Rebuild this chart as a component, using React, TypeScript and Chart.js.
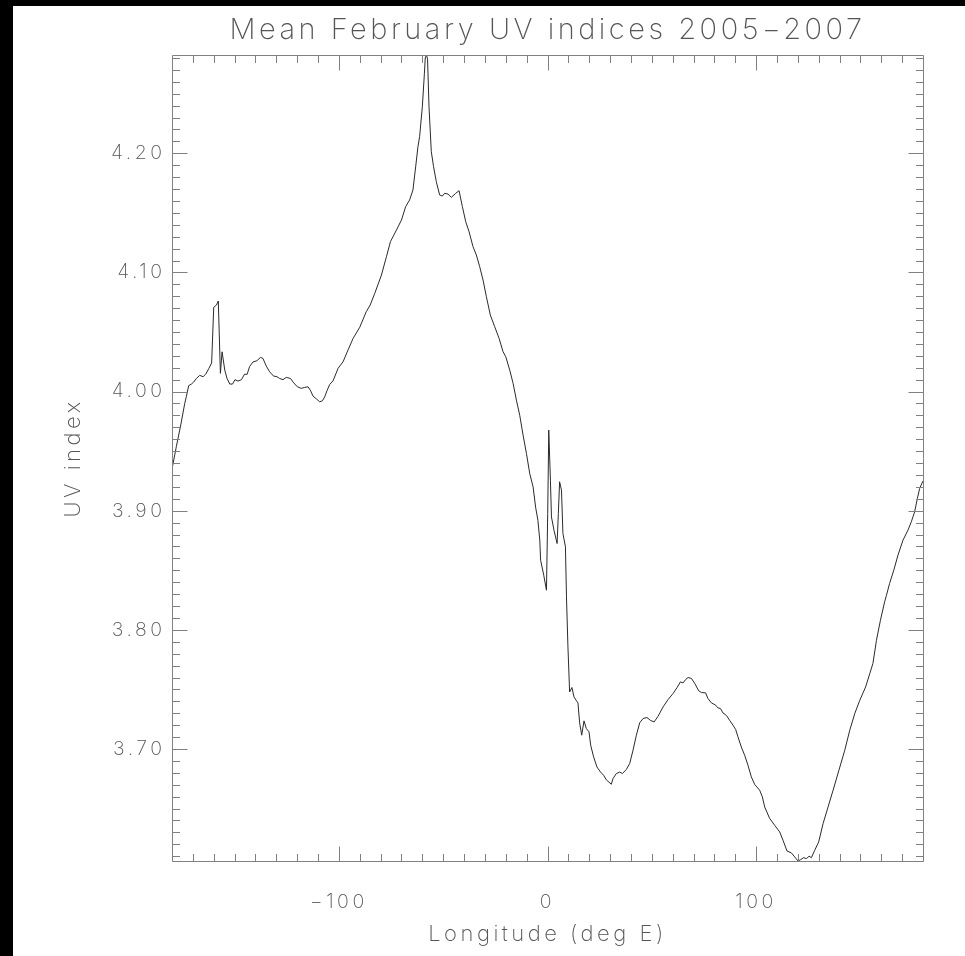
import React, { useEffect, useRef } from 'react';
import { Chart, registerables } from 'chart.js';

Chart.register(...registerables);

const longitudes = [
  -180, -177.9, -175.8, -173.9, -173.1, -172.0, -170.7, -169.6, -168.3, -166.7,
  -165.1, -163.8, -162.3, -161.0, -160.0, -158.7, -157.8, -156.8, -156.0, -154.7,
  -153.6, -152.3, -151.0, -149.8, -148.4, -146.7, -145.2, -144.0, -142.8, -141.2,
  -139.3, -137.6, -136.4, -134.8, -133.2, -131.3, -129.7, -128.4, -126.8, -125.2,
  -123.2, -121.7, -119.9, -118.0, -116.4, -114.8, -113.7, -112.4, -110.8, -109.2,
  -107.9, -106.8, -105.7, -104.4, -102.8, -100.4, -98.0, -95.6, -93.2, -90.0,
  -86.9, -85.0, -82.8, -79.6, -77.2, -75.3, -72.4, -70.0, -68.0, -66.1,
  -64.5, -63.2, -62.1, -61.3, -60.0, -59.0, -58.6, -58.0, -57.5, -56.8,
  -55.7, -54.6, -53.3, -51.7, -50.4, -49.3, -47.7, -46.1, -44.0, -42.4,
  -40.8, -39.2, -37.6, -35.7, -34.1, -32.5, -30.9, -29.3, -27.4, -25.3,
  -23.2, -21.3, -20.0, -18.1, -16.5, -14.9, -13.3, -11.7, -10.1, -8.5,
  -6.9, -5.7, -4.6, -3.7, -3.3, -1.8, -0.5, 0.1, 0.6, 1.4,
  1.9, 3.1, 4.6, 5.2, 5.8, 6.7, 7.4, 8.6, 9.1, 9.8,
  10.6, 11.7, 12.7, 13.9, 14.6, 15.4, 16.4, 17.5, 18.6, 19.9,
  20.7, 22.1, 23.7, 25.4, 26.9, 28.2, 30.6, 31.4, 33.0, 34.6,
  35.9, 37.8, 39.4, 41.0, 42.6, 44.2, 45.8, 47.7, 49.3, 51.1,
  53.0, 55.4, 57.8, 60.2, 62.1, 63.7, 65.0, 66.2, 67.4, 69.0,
  70.6, 72.5, 73.8, 75.8, 76.9, 78.6, 80.6, 81.7, 82.9, 84.1,
  85.8, 87.3, 88.9, 90.2, 91.3, 92.9, 94.5, 96.1, 97.7, 99.3,
  101.7, 103.0, 104.1, 106.5, 108.9, 111.3, 112.9, 114.8, 116.9, 118.5,
  120.1, 121.2, 122.8, 124.1, 125.4, 126.5, 128.1, 130.0, 132.1, 134.5,
  136.9, 139.7, 142.5, 144.9, 147.3, 149.7, 152.5, 154.5, 156.0, 157.7,
  159.6, 161.6, 162.5, 164.0, 166.0, 168.0, 170.4, 172.8, 174.4, 176.0,
  177.3, 178.4, 180.0,
];

const uvIndex = [
  3.935, 3.954, 3.972, 3.990, 3.996, 4.005, 4.0063, 4.008, 4.011, 4.0136,
  4.0125, 4.0147, 4.0195, 4.024, 4.0707, 4.0726, 4.076, 4.0153, 4.0334, 4.018,
  4.011, 4.0063, 4.0063, 4.010, 4.0088, 4.010, 4.0147, 4.0144, 4.021, 4.0248,
  4.0259, 4.0287, 4.0278, 4.0214, 4.0166, 4.013, 4.0125, 4.011, 4.010, 4.0119,
  4.011, 4.0074, 4.004, 4.0027, 4.0035, 4.004, 4.0012, 3.9962, 3.9939, 3.9914,
  3.9923, 3.9956, 4.0007, 4.006, 4.009, 4.0195, 4.025, 4.035, 4.0446, 4.054,
  4.067, 4.0726, 4.0825, 4.0978, 4.1132, 4.1258, 4.1356, 4.144, 4.1552, 4.1608,
  4.1692, 4.1887, 4.2055, 4.214, 4.239, 4.2672, 4.28, 4.2825, 4.279, 4.239,
  4.2013, 4.1887, 4.1762, 4.165, 4.1641, 4.1664, 4.1658, 4.163, 4.1664, 4.1686,
  4.1552, 4.1426, 4.1342, 4.1216, 4.1146, 4.1048, 4.0936, 4.0796, 4.0642, 4.0544,
  4.0446, 4.0334, 4.0292, 4.018, 4.0069, 3.9928, 3.98, 3.9634, 3.9481, 3.931,
  3.92, 3.903, 3.892, 3.8753, 3.8585, 3.8459, 3.8333, 3.8977, 3.9677, 3.9257,
  3.8948, 3.8837, 3.8725, 3.8977, 3.9243, 3.9173, 3.8809, 3.8697, 3.8277, 3.7857,
  3.7479, 3.7516, 3.7437, 3.7404, 3.7387, 3.722, 3.7116, 3.7236, 3.7172, 3.7144,
  3.7032, 3.6934, 3.6849, 3.6807, 3.678, 3.6741, 3.6704, 3.6752, 3.6794, 3.6807,
  3.6794, 3.6828, 3.6878, 3.699, 3.7116, 3.722, 3.7256, 3.7264, 3.7241, 3.7227,
  3.7275, 3.7353, 3.7415, 3.7466, 3.7516, 3.7563, 3.7555, 3.7583, 3.76, 3.7592,
  3.755, 3.7488, 3.7474, 3.7471, 3.7424, 3.7387, 3.7368, 3.7345, 3.734, 3.7303,
  3.7281, 3.7241, 3.72, 3.7164, 3.7102, 3.7017, 3.6948, 3.6864, 3.6766, 3.6703,
  3.6654, 3.6598, 3.6514, 3.6417, 3.636, 3.6304, 3.6234, 3.6144, 3.6128, 3.6094,
  3.606, 3.607, 3.6088, 3.608, 3.61, 3.6088, 3.615, 3.622, 3.6374, 3.6514,
  3.6654, 3.6822, 3.699, 3.7158, 3.7298, 3.7409, 3.7521, 3.7634, 3.7718, 3.7913,
  3.8081, 3.8235, 3.8291, 3.839, 3.8501, 3.8627, 3.8753, 3.8837, 3.8907, 3.8991,
  3.9103, 3.9187, 3.925,
];

const xTickValues = [-100, 0, 100];
const xTickLabels = ['\u2212100', '0', '100'];
const yTickValues = [3.7, 3.8, 3.9, 4.0, 4.1, 4.2];
const yTickLabels = ['3.70', '3.80', '3.90', '4.00', '4.10', '4.20'];

const TITLE = 'Mean February UV indices 2005\u22122007';
const X_TITLE = 'Longitude (deg E)';
const Y_TITLE = 'UV index';

const X_MIN = -180;
const X_MAX = 180;
const Y_MIN = 3.606;
const Y_MAX = 4.2825;

const FONT = 'Inter, Roboto, sans-serif';
const WEIGHT = '200';
const TEXT_COLOR = '#555555';
const AXIS_COLOR = '#808080';
const LINE_COLOR = '#2a2a2a';

const CANVAS_W = 952;
const CANVAS_H = 950;

const idlFramePlugin = {
  id: 'idlFrame',
  beforeLayout(chart: any) {
    chart.ctx.letterSpacing = '3.5px';
  },
  beforeDraw(chart: any) {
    chart.ctx.letterSpacing = '3.5px';
  },
  afterDraw(chart: any) {
    const { ctx, chartArea: a, scales } = chart;
    const xs = scales.x;
    const ys = scales.y;
    const L = Math.round(a.left) + 0.5;
    const R = Math.round(a.right) + 0.5;
    const T = Math.round(a.top) + 0.5;
    const B = Math.round(a.bottom) + 0.5;
    ctx.save();
    ctx.strokeStyle = AXIS_COLOR;
    ctx.lineWidth = 1;
    ctx.beginPath();
    ctx.rect(L, T, R - L, B - T);
    for (let k = -17; k <= 17; k++) {
      const v = k * 10;
      const px = Math.round(xs.getPixelForValue(v)) + 0.5;
      const len = v % 100 === 0 ? 15 : 7.5;
      ctx.moveTo(px, B);
      ctx.lineTo(px, B - len);
      ctx.moveTo(px, T);
      ctx.lineTo(px, T + len);
    }
    for (let k = 361; k <= 428; k++) {
      const v = k / 100;
      const py = Math.round(ys.getPixelForValue(v)) + 0.5;
      const len = k % 10 === 0 ? 15 : 7.5;
      ctx.moveTo(L, py);
      ctx.lineTo(L + len, py);
      ctx.moveTo(R, py);
      ctx.lineTo(R - len, py);
    }
    ctx.stroke();
    ctx.restore();
  },
};

export default function App() {
  const canvasRef = useRef<HTMLCanvasElement | null>(null);

  useEffect(() => {
    const canvas = canvasRef.current;
    if (!canvas) return;
    const data = longitudes.map((x, i) => ({ x, y: uvIndex[i] }));
    const chart = new Chart(canvas, {
      type: 'line',
      data: {
        datasets: [
          {
            data,
            borderColor: LINE_COLOR,
            borderWidth: 1,
            pointRadius: 0,
            tension: 0,
            fill: false,
          },
        ],
      },
      options: {
        animation: false,
        responsive: false,
        devicePixelRatio: 1,
        parsing: false as any,
        layout: { padding: { left: 0, right: 42, top: 0, bottom: 0 } },
        plugins: {
          legend: { display: false },
          tooltip: { enabled: false },
          title: { display: false },
        },
        scales: {
          x: {
            type: 'linear',
            min: X_MIN,
            max: X_MAX,
            grid: { display: false, drawTicks: false },
            border: { display: false },
            afterBuildTicks: (scale: any) => {
              scale.ticks = xTickValues.map((value) => ({ value }));
            },
            afterFit: (scale: any) => {
              scale.height = 95;
            },
            ticks: {
              color: TEXT_COLOR,
              padding: 29,
              maxRotation: 0,
              autoSkip: false,
              font: { family: FONT, size: 19.5, weight: WEIGHT as any, lineHeight: 1.2 },
              callback: (value: any) => {
                const i = xTickValues.indexOf(Number(value));
                return i >= 0 ? xTickLabels[i] : '';
              },
            },
            title: {
              display: true,
              text: X_TITLE,
              color: TEXT_COLOR,
              font: { family: FONT, size: 22, weight: WEIGHT as any, lineHeight: 1.2 },
              padding: { top: 0, bottom: 8.4 },
            },
          },
          xTop: {
            type: 'linear',
            position: 'top',
            min: X_MIN,
            max: X_MAX,
            grid: { display: false, drawTicks: false },
            border: { display: false },
            ticks: { display: false },
            afterFit: (scale: any) => {
              scale.height = 49;
            },
            title: {
              display: true,
              text: TITLE,
              color: TEXT_COLOR,
              font: { family: FONT, size: 29, weight: WEIGHT as any, lineHeight: 1.2 },
              padding: { top: 7, bottom: 0 },
            },
          },
          y: {
            type: 'linear',
            min: Y_MIN,
            max: Y_MAX,
            grid: { display: false, drawTicks: false },
            border: { display: false },
            afterBuildTicks: (scale: any) => {
              scale.ticks = yTickValues.map((value) => ({ value }));
            },
            afterFit: (scale: any) => {
              scale.width = 159;
            },
            ticks: {
              color: TEXT_COLOR,
              padding: 6.5,
              autoSkip: false,
              font: { family: FONT, size: 19.5, weight: WEIGHT as any, lineHeight: 1.2 },
              callback: (value: any) => {
                const i = yTickValues.findIndex((t) => Math.abs(t - Number(value)) < 1e-9);
                return i >= 0 ? yTickLabels[i] : '';
              },
            },
            title: {
              display: true,
              text: Y_TITLE,
              color: TEXT_COLOR,
              font: { family: FONT, size: 22, weight: WEIGHT as any, lineHeight: 1.2 },
              padding: { top: 46.8, bottom: 0 },
            },
          },
        },
      },
      plugins: [idlFramePlugin],
    });
    return () => {
      chart.destroy();
    };
  }, []);

  return (
    <div style={{ position: 'fixed', inset: 0, background: '#000' }}>
      <div
        style={{
          position: 'absolute',
          left: 13,
          top: 6,
          width: CANVAS_W,
          height: CANVAS_H,
          background: '#fff',
        }}
      >
        <canvas ref={canvasRef} width={CANVAS_W} height={CANVAS_H} style={{ display: 'block' }} />
      </div>
    </div>
  );
}
